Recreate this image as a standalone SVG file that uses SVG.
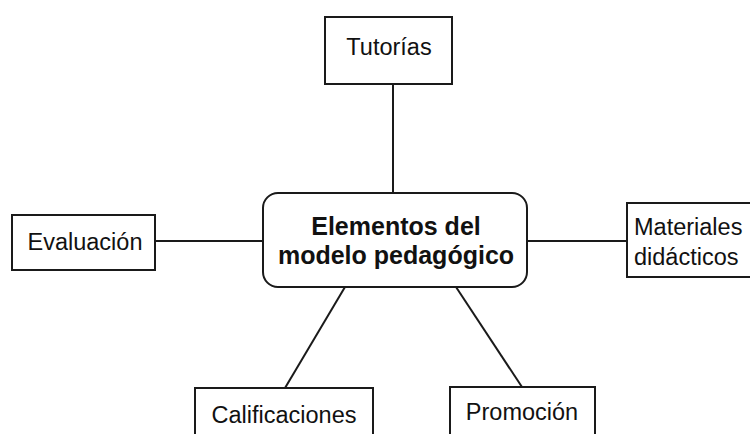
<svg xmlns="http://www.w3.org/2000/svg" width="750" height="434" viewBox="0 0 750 434">
<style>
.box{fill:#fff;stroke:#1a1a1a;stroke-width:2}
.t{font-family:"Liberation Sans",Arial,sans-serif;font-size:23.5px;fill:#111;text-anchor:middle}
.b{font-weight:bold;font-size:25px}
.c line{stroke:#1a1a1a;stroke-width:2}
</style>
<rect width="750" height="434" fill="#fff"/>
<g class="c" id="connectors">
<line x1="393" y1="84" x2="393" y2="194"/>
<line x1="155" y1="241" x2="264" y2="241"/>
<line x1="526" y1="241" x2="628" y2="241"/>
<line x1="345" y1="287" x2="285" y2="388"/>
<line x1="456" y1="287" x2="522" y2="387"/>
</g>
<g id="tutorias">
<rect class="box" x="325" y="17" width="127" height="67"/>
<text class="t" x="389" y="55">Tutorías</text>
</g>
<g id="center">
<rect class="box" x="263" y="193" width="264" height="94" rx="15"/>
<text class="t b" x="396" y="235">Elementos del</text>
<text class="t b" x="396" y="264">modelo pedagógico</text>
</g>
<g id="evaluacion">
<rect class="box" x="12" y="215" width="143" height="55"/>
<text class="t" x="85" y="250">Evaluación</text>
</g>
<g id="materiales">
<rect class="box" x="627" y="203" width="130" height="74"/>
<text class="t" x="634" y="235" style="text-anchor:start">Materiales</text>
<text class="t" x="634" y="265" style="text-anchor:start">didácticos</text>
</g>
<g id="calificaciones">
<rect class="box" x="195" y="388" width="178" height="60"/>
<text class="t" x="284" y="423">Calificaciones</text>
</g>
<g id="promocion">
<rect class="box" x="450" y="387" width="145" height="60"/>
<text class="t" x="522" y="420">Promoción</text>
</g>
</svg>
